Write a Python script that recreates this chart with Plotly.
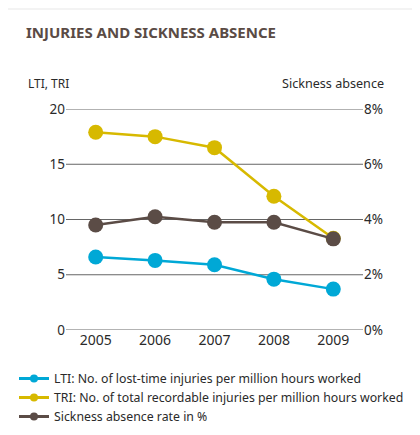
import plotly.graph_objects as go

years = ["2005", "2006", "2007", "2008", "2009"]
lti = [6.6, 6.3, 5.9, 4.6, 3.7]
tri = [17.9, 17.5, 16.5, 12.1, 8.3]
sickness = [3.8, 4.1, 3.9, 3.9, 3.3]

left_ticks = [0, 5, 10, 15, 20]
right_ticks = [0, 2, 4, 6, 8]
right_labels = ["0%", "2%", "4%", "6%", "8%"]

c_lti = "#00a8d6"
c_tri = "#d7b900"
c_sick = "#5b4c46"

names = [
    "LTI: No. of lost-time injuries per million hours worked",
    "TRI: No. of total recordable injuries per million hours worked",
    "Sickness absence rate in %",
]

FONT = "Noto Sans"

# page body has an 8px margin, so figure coords = screen coords - 8
W, H = 412, 427
L, R, T, B = 58, 57, 101, 105
PW, PH = W - L - R, H - T - B


def px(sx):
    return (sx - 8 - L) / PW


def py(sy):
    return (H - B - (sy - 8)) / PH


fig = go.Figure()

fig.add_trace(go.Scatter(x=years, y=lti, mode="lines+markers", showlegend=False,
                         line=dict(color=c_lti, width=2.5),
                         marker=dict(color=c_lti, size=15)))
fig.add_trace(go.Scatter(x=years, y=tri, mode="lines+markers", showlegend=False,
                         line=dict(color=c_tri, width=2.5),
                         marker=dict(color=c_tri, size=15)))
fig.add_trace(go.Scatter(x=years, y=sickness, mode="lines+markers", showlegend=False,
                         yaxis="y2",
                         line=dict(color=c_sick, width=2.5),
                         marker=dict(color=c_sick, size=15)))

# legend entries
for nm, col in zip(names, [c_lti, c_tri, c_sick]):
    fig.add_trace(go.Scatter(x=[None], y=[None], mode="lines+markers", name=nm,
                             line=dict(color=col, width=3),
                             marker=dict(color=col, size=8)))

shapes = [dict(type="rect", xref="paper", yref="paper",
               x0=-0.5, x1=1.5, y0=-0.7, y1=py(10),
               fillcolor="white", line=dict(width=0), layer="below")]
for t in left_ticks:
    shapes.append(dict(type="line", xref="paper", yref="y", x0=0, x1=1, y0=t, y1=t,
                       line=dict(color="#666666", width=1), layer="below"))

fig.update_layout(
    width=W, height=H,
    margin=dict(l=L, r=R, t=T, b=B, autoexpand=False),
    paper_bgcolor="#f3f3f3",
    plot_bgcolor="rgba(0,0,0,0)",
    font=dict(family=FONT, color="#2a2a2a", size=13),
    title=dict(text="<b>INJURIES AND SICKNESS ABSENCE</b>", x=(26 - 8) / W,
               xanchor="left", y=1 - (33 - 8) / H, yanchor="middle",
               xref="container", yref="container",
               font=dict(family=FONT, size=15, color="#5a4b45")),
    xaxis=dict(type="category", range=[-0.5, 4.5], showgrid=False, zeroline=False,
               showline=False, ticks="", tickfont=dict(size=14, color="#2a2a2a"),
               fixedrange=True, automargin=False),
    yaxis=dict(range=[0, 20], tickvals=left_ticks, showgrid=False,
               zeroline=False, showline=False,
               ticks="", tickfont=dict(size=13.5, color="#2a2a2a"), automargin=False),
    yaxis2=dict(range=[0, 8], tickvals=right_ticks,
                ticktext=right_labels, overlaying="y", side="right", showgrid=False,
                zeroline=False, showline=False, ticks="",
                tickfont=dict(size=13.5, color="#2a2a2a"), automargin=False),
    legend=dict(x=px(14), y=py(364), xanchor="left", yanchor="top",
                bgcolor="rgba(0,0,0,0)", font=dict(size=12.3, color="#2a2a2a"),
                tracegroupgap=0, itemwidth=30),
    showlegend=True,
    shapes=shapes,
    annotations=[
        dict(text="LTI, TRI", xref="paper", yref="paper", x=px(26),
             y=py(83), xanchor="left", yanchor="middle", showarrow=False,
             font=dict(size=12, color="#2a2a2a")),
        dict(text="Sickness absence", xref="paper", yref="paper", x=px(386),
             y=py(83), xanchor="right", yanchor="middle", showarrow=False,
             font=dict(size=12.6, color="#2a2a2a")),
    ],
)

fig.write_html("out.html")
